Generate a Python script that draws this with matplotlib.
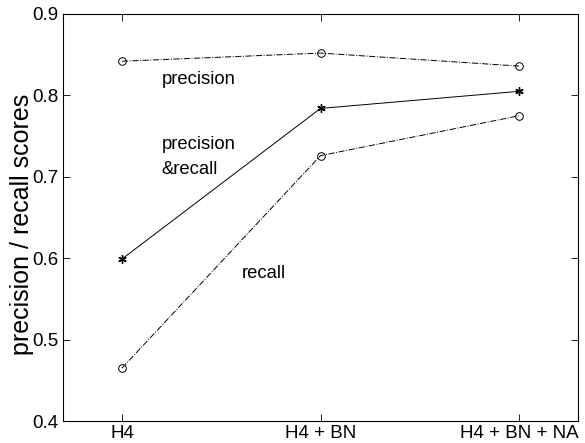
import matplotlib
matplotlib.use('Agg')
import matplotlib.pyplot as plt

plt.rcParams['font.family'] = ['Liberation Sans', 'DejaVu Sans']

# configurations on the x axis
configs = ['H4', 'H4 + BN', 'H4 + BN + NA']
xpos = [1, 2, 3]

# scores
precision = [0.842, 0.852, 0.836]
prec_recall = [0.599, 0.784, 0.805]
recall = [0.465, 0.726, 0.775]

fig = plt.figure(figsize=(5.85, 4.43), dpi=100)
ax = fig.add_axes([63/585, 1 - 421/443, (578-63)/585, (421-14)/443])

ax.plot(xpos, precision, color='k', linestyle='-.', linewidth=0.7,
        marker='o', markersize=5.5, markerfacecolor='none', markeredgewidth=0.7)
ax.plot(xpos, prec_recall, color='k', linestyle='-', linewidth=0.7,
        marker=(6, 2, 0), markersize=6, markeredgewidth=1.0)
ax.plot(xpos, recall, color='k', linestyle='-.', linewidth=0.7,
        marker='o', markersize=5.5, markerfacecolor='none', markeredgewidth=0.7)

ax.text(1.20, 0.819, 'precision', fontsize=13.3, va='center', ha='left')
ax.text(1.20, 0.724, 'precision\n&recall', fontsize=13.3, va='center', ha='left',
        linespacing=1.6)
ax.text(1.605, 0.581, 'recall', fontsize=13.3, va='center', ha='left')

ax.set_xlim(0.703, 3.297)
ax.set_ylim(0.4, 0.9)
ax.set_xticks(xpos)
ax.set_xticklabels(configs)
ax.set_yticks([0.4, 0.5, 0.6, 0.7, 0.8, 0.9])
ax.tick_params(direction='in', top=True, right=True, length=5, width=0.6,
               labelsize=13.5, pad=3)
ax.set_ylabel('precision / recall scores', fontsize=18)
ax.yaxis.set_label_coords(-0.056, 0.482)
for s in ax.spines.values():
    s.set_linewidth(0.8)

fig.savefig('out.png', dpi=100)
